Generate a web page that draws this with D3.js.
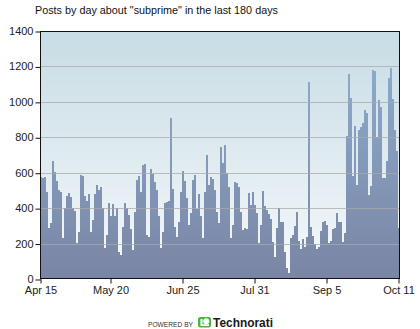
<!DOCTYPE html>
<html>
<head>
<meta charset="utf-8">
<script src="https://cdn.jsdelivr.net/npm/d3@7/dist/d3.min.js"></script>
<style>
  html, body { margin: 0; padding: 0; background: #fff; }
  svg { display: block; font-family: "Liberation Sans", Arial, sans-serif; }
</style>
</head>
<body>
<svg id="chart" width="420" height="329"></svg>
<script>
// Daily post counts, Apr 15 – Oct 11 (180 days)
const firstDay = new Date(2007, 3, 15);
const posts = [
  575, 570, 578, 493, 286, 314, 668, 606, 555, 502,
  493, 233, 400, 470, 485, 465, 400, 385, 205, 265,
  587, 580, 470, 440, 480, 265, 333, 480, 530, 500,
  520, 400, 173, 248, 427, 355, 422, 355, 400, 155,
  135, 295, 427, 400, 360, 285, 163, 380, 560, 580,
  493, 643, 650, 248, 239, 620, 590, 550, 505, 353,
  175, 263, 428, 433, 440, 907, 508, 295, 239, 320,
  489, 610, 553, 455, 305, 375, 559, 587, 393, 478,
  356, 233, 493, 700, 531, 574, 563, 500, 380, 314,
  747, 657, 757, 600, 520, 233, 305, 545, 540, 520,
  380, 277, 290, 285, 485, 420, 490, 415, 375, 205,
  305, 495, 410, 390, 365, 340, 210, 122, 290, 400,
  324, 324, 155, 60, 34, 230, 250, 300, 380, 216,
  172, 226, 182, 237, 1111, 296, 245, 200, 172, 180,
  270, 324, 328, 306, 206, 215, 283, 287, 375, 324,
  321, 211, 258, 806, 1155, 1023, 579, 866, 532, 843,
  858, 881, 953, 938, 472, 523, 1179, 1174, 802, 1009,
  970, 570, 570, 668, 1136, 1193, 1017, 843, 725, 290
];
const xTickLabels = ["Apr 15", "May 20", "Jun 25", "Jul 31", "Sep 5", "Oct 11"];
const yTicks = [0, 200, 400, 600, 800, 1000, 1200, 1400];
const titleText = 'Posts by day about "subprime" in the last 180 days';

const days = posts.map((_, i) => d3.timeDay.offset(firstDay, i));
const fmt = d3.timeFormat("%b %-d");
const data = days.map((d, i) => ({ day: d, label: fmt(d), value: posts[i] }));

const svg = d3.select("#chart");
const m = { left: 40, right: 400, top: 31, bottom: 279 };

const x = d3.scaleBand().domain(data.map(d => d.label)).range([m.left, m.right]).padding(0);
const y = d3.scaleLinear().domain([0, 1400]).range([m.bottom, m.top]);

const defs = svg.append("defs");
const bg = defs.append("linearGradient").attr("id", "bgGrad")
  .attr("gradientUnits", "userSpaceOnUse")
  .attr("x1", 0).attr("y1", m.top).attr("x2", 0).attr("y2", m.bottom);
bg.append("stop").attr("offset", 0).attr("stop-color", "#c7dce4");
bg.append("stop").attr("offset", 1).attr("stop-color", "#f6f9fb");

const barGrad = defs.append("linearGradient").attr("id", "barGrad")
  .attr("gradientUnits", "userSpaceOnUse")
  .attr("x1", 0).attr("y1", m.top).attr("x2", 0).attr("y2", m.bottom);
barGrad.append("stop").attr("offset", 0).attr("stop-color", "#8fb0d2");
barGrad.append("stop").attr("offset", 1).attr("stop-color", "#7a85a4");

// Plot background
svg.append("rect")
  .attr("x", m.left).attr("y", m.top)
  .attr("width", m.right - m.left).attr("height", m.bottom - m.top)
  .attr("fill", "url(#bgGrad)");

// Bars
svg.append("g").selectAll("rect").data(data).join("rect")
  .attr("x", d => x(d.label))
  .attr("y", d => y(d.value))
  .attr("width", x.bandwidth())
  .attr("height", d => y(0) - y(d.value))
  .attr("fill", "url(#barGrad)")
  .attr("shape-rendering", "crispEdges");

// Horizontal grid lines
svg.append("g").selectAll("line").data(yTicks.filter(v => v > 0 && v < 1400)).join("line")
  .attr("x1", m.left).attr("x2", m.right)
  .attr("y1", d => Math.round(y(d)) + 0.5).attr("y2", d => Math.round(y(d)) + 0.5)
  .attr("stroke", "#aaaaaa").attr("stroke-opacity", 0.75);

// Plot frame
svg.append("rect")
  .attr("x", m.left + 0.5).attr("y", m.top + 0.5)
  .attr("width", m.right - m.left - 1).attr("height", m.bottom - m.top - 1)
  .attr("fill", "none").attr("stroke", "#111");

// Y axis
const yAxis = svg.append("g").attr("transform", `translate(${m.left + 0.5},0)`)
  .call(d3.axisLeft(y).tickValues(yTicks).tickSize(5).tickPadding(2).tickFormat(d3.format("d")));
yAxis.select(".domain").remove();
yAxis.selectAll("line").attr("stroke", "#111").attr("transform", "translate(0,0.5)");
yAxis.selectAll("text").attr("font-size", 11).attr("fill", "#222")
  .attr("font-family", "'Liberation Sans', Arial, sans-serif");

// X axis
const tickLabelSet = new Set(xTickLabels);
const xAxis = svg.append("g").attr("transform", `translate(0,${m.bottom - 0.5})`)
  .call(d3.axisBottom(x).tickValues(data.map(d => d.label).filter(l => tickLabelSet.has(l)))
    .tickSize(5).tickPadding(3));
xAxis.select(".domain").remove();
xAxis.selectAll("line").attr("stroke", "#111");
xAxis.selectAll("text").attr("font-size", 11).attr("fill", "#222")
  .attr("font-family", "'Liberation Sans', Arial, sans-serif");

// Title
svg.append("text").attr("x", 35).attr("y", 14)
  .attr("font-size", 10.8).attr("fill", "#111").text(titleText);

// Footer credit
const footer = svg.append("g");
footer.append("text").attr("x", 148).attr("y", 327)
  .attr("font-size", 8).attr("fill", "#333")
  .attr("textLength", 45).attr("lengthAdjust", "spacingAndGlyphs")
  .text("POWERED BY");
const logo = footer.append("g").attr("transform", "translate(198,317)");
logo.append("rect").attr("x", 0).attr("y", 0).attr("width", 13).attr("height", 10.5)
  .attr("rx", 2.5).attr("fill", "#4cb43c");
logo.append("circle").attr("cx", 8.2).attr("cy", 4.3).attr("r", 3).attr("fill", "#fff");
logo.append("rect").attr("x", 2.5).attr("y", 7.2).attr("width", 8.5).attr("height", 1.8).attr("fill", "#fff");
logo.append("rect").attr("x", 2.5).attr("y", 2).attr("width", 2).attr("height", 6).attr("fill", "#fff");
footer.append("text").attr("x", 213).attr("y", 327)
  .attr("font-size", 13).attr("font-weight", "bold").attr("fill", "#1a1a1a")
  .attr("textLength", 60).attr("lengthAdjust", "spacingAndGlyphs")
  .text("Technorati");
</script>
</body>
</html>
